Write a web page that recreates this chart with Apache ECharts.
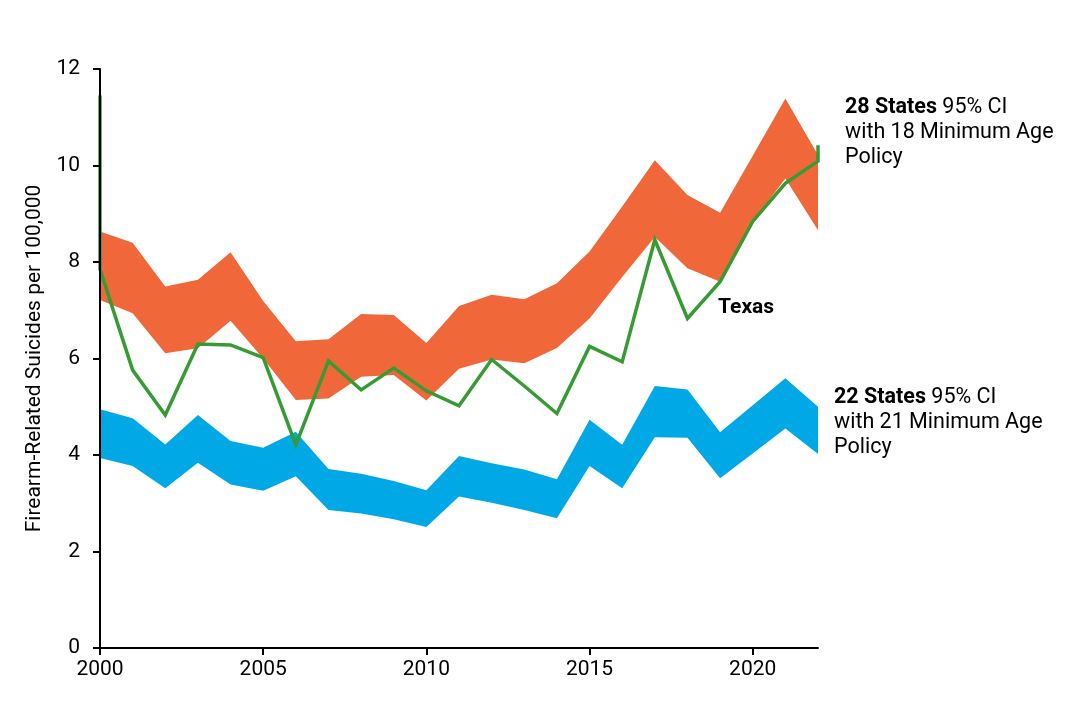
<!DOCTYPE html>
<html lang="en">
  <head>
    <meta charset="UTF-8" />
    <title>Firearm-Related Suicides</title>
    <style>
      html, body { margin: 0; padding: 0; background: #ffffff; }
      #chart { width: 1082px; height: 714px; }
    </style>
  </head>
  <body>
    <div id="chart"></div>
    <script src="https://cdn.jsdelivr.net/npm/echarts@6/dist/echarts.min.js"></script>
    <script>
      const years = ['2000', '2001', '2002', '2003', '2004', '2005', '2006', '2007', '2008', '2009', '2010', '2011',
        '2012', '2013', '2014', '2015', '2016', '2017', '2018', '2019', '2020', '2021', '2022']

      // 28 states, 18 minimum age: 95% CI bounds
      const age18Low = [7.21, 6.94, 6.11, 6.21, 6.78, 6.0, 5.14, 5.17, 5.62, 5.66, 5.13, 5.79,
        5.98, 5.9, 6.22, 6.83, 7.69, 8.52, 7.87, 7.59, 8.83, 9.73, 8.66]
      const age18High = [8.63, 8.4, 7.49, 7.63, 8.2, 7.19, 6.36, 6.4, 6.92, 6.9, 6.32, 7.09,
        7.32, 7.23, 7.56, 8.22, 9.15, 10.11, 9.39, 9.02, 10.2, 11.39, 10.22]

      // 22 states, 21 minimum age: 95% CI bounds
      const age21Low = [3.94, 3.77, 3.31, 3.84, 3.39, 3.26, 3.56, 2.86, 2.79, 2.67, 2.51, 3.14,
        3.01, 2.86, 2.69, 3.77, 3.31, 4.37, 4.36, 3.52, 4.03, 4.55, 4.02]
      const age21High = [4.95, 4.76, 4.22, 4.83, 4.29, 4.15, 4.48, 3.71, 3.61, 3.46, 3.27, 3.98,
        3.83, 3.7, 3.5, 4.73, 4.21, 5.43, 5.36, 4.47, 5.03, 5.59, 5.0]

      // Texas rate
      const texas = [7.85, 5.76, 4.83, 6.3, 6.28, 6.02, 4.21, 5.95, 5.35, 5.8, 5.33, 5.02,
        5.98, 5.43, 4.86, 6.25, 5.93, 8.46, 6.83, 7.59, 8.84, 9.63, 10.09]
      // stray vertical strokes at both ends of the Texas line in the original
      const texasStartTop = 11.45
      const texasEndTop = 10.42

      const yTicks = { min: 0, max: 12, interval: 2 }

      const diff = (hi, lo) => hi.map((v, i) => +(v - lo[i]).toFixed(3))

      // texas goes on a hidden numeric x axis so the end strokes can be vertical
      let texasData = texas.map((v, i) => [+years[i], v])
      texasData.unshift([+years[0], texasStartTop])
      texasData.push([+years[years.length - 1], texasEndTop])

      const orange = '#f0683a'
      const blue = '#00a9e6'
      const green = '#379b34'
      const font = 'Roboto'
      const fs = 21

      function band(stack, lo, hi, color) {
        return [
          {
            type: 'line',
            stack,
            data: lo,
            symbol: 'none',
            showSymbol: false,
            lineStyle: { width: 0, opacity: 0 },
            silent: true,
            z: 1
          },
          {
            type: 'line',
            stack,
            data: diff(hi, lo),
            symbol: 'none',
            showSymbol: false,
            lineStyle: { width: 0, opacity: 0 },
            areaStyle: { color, opacity: 1 },
            silent: true,
            z: 1
          }
        ]
      }

      let chart = echarts.init(document.getElementById('chart'))
      let option = {
        animation: false,
        backgroundColor: '#ffffff',
        textStyle: { fontFamily: font },
        grid: { left: 100, right: 264, top: 69, bottom: 66, containLabel: false },
        xAxis: [
          {
            type: 'category',
            data: years,
            boundaryGap: false,
            z: 5,
            splitLine: { show: false },
            axisLine: { show: true, lineStyle: { color: '#000', width: 2 } },
            axisTick: { show: true, interval: 4, length: 7, lineStyle: { color: '#000', width: 2 } },
            axisLabel: { interval: 4, color: '#000', fontSize: fs, margin: 11, fontFamily: font }
          },
          {
            type: 'value',
            min: +years[0],
            max: +years[years.length - 1],
            show: false,
            splitLine: { show: false }
          }
        ],
        yAxis: {
          type: 'value',
          min: yTicks.min,
          max: yTicks.max,
          interval: yTicks.interval,
          z: 5,
          name: 'Firearm-Related Suicides per 100,000',
          nameLocation: 'middle',
          nameGap: 54,
          nameTextStyle: { color: '#000', fontSize: fs, fontFamily: font },
          splitLine: { show: false },
          axisLine: { show: true, lineStyle: { color: '#000', width: 2 } },
          axisTick: { show: true, length: 7, lineStyle: { color: '#000', width: 2 } },
          axisLabel: { color: '#000', fontSize: fs, margin: 20, fontFamily: font }
        },
        series: [
          ...band('age18', age18Low, age18High, orange),
          ...band('age21', age21Low, age21High, blue),
          {
            type: 'line',
            name: 'Texas',
            xAxisIndex: 1,
            data: texasData,
            symbol: 'none',
            lineStyle: { color: green, width: 3.5, join: 'miter' },
            z: 3
          }
        ],
        graphic: [
          {
            type: 'text',
            left: 718,
            top: 297,
            style: { text: 'Texas', fontSize: fs, fontWeight: 'bold', fontFamily: font, fill: '#000' }
          },
          {
            type: 'text',
            left: 845,
            top: 95,
            style: {
              text: '{b|28 States} 95% CI\nwith 18 Minimum Age\nPolicy',
              fontSize: 21.5,
              lineHeight: 25,
              fontFamily: font,
              fill: '#000',
              rich: { b: { fontWeight: 'bold', fontSize: 21.5, lineHeight: 25, fontFamily: font, fill: '#000' } }
            }
          },
          {
            type: 'text',
            left: 834,
            top: 385,
            style: {
              text: '{b|22 States} 95% CI\nwith 21 Minimum Age\nPolicy',
              fontSize: 21.5,
              lineHeight: 25,
              fontFamily: font,
              fill: '#000',
              rich: { b: { fontWeight: 'bold', fontSize: 21.5, lineHeight: 25, fontFamily: font, fill: '#000' } }
            }
          }
        ]
      }
      chart.setOption(option)
    </script>
  </body>
</html>
